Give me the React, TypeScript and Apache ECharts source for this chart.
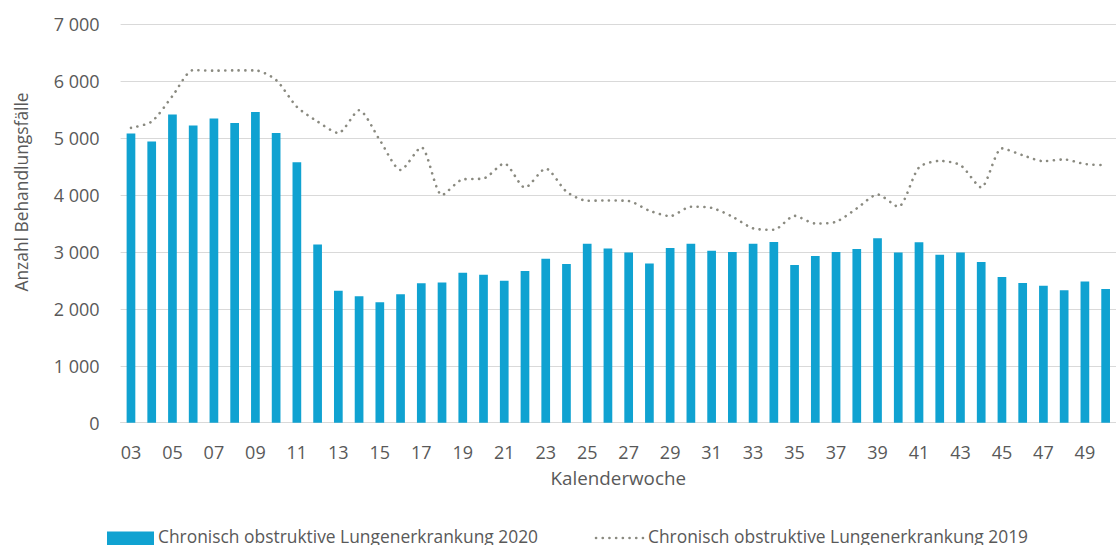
import React, { useEffect, useRef } from "react";
import * as echarts from "echarts";

const weeks = ["03","04","05","06","07","08","09","10","11","12","13","14","15","16","17","18","19","20","21","22","23","24","25","26","27","28","29","30","31","32","33","34","35","36","37","38","39","40","41","42","43","44","45","46","47","48","49","50"];

const copd2020 = [5080,4940,5415,5220,5345,5265,5460,5090,4575,3130,2320,2220,2115,2255,2450,2465,2635,2600,2495,2665,2880,2790,3145,3060,2990,2795,3070,3145,3020,3000,3145,3175,2770,2930,3000,3050,3240,2990,3170,2950,2990,2825,2560,2455,2405,2325,2480,2350];

const copd2019 = [5180,5290,5740,6195,6185,6190,6190,6020,5550,5290,5090,5490,4965,4440,4840,4000,4275,4290,4555,4130,4465,4060,3900,3905,3895,3725,3630,3795,3775,3620,3415,3390,3635,3500,3530,3765,4010,3795,4485,4600,4525,4135,4820,4700,4595,4625,4545,4525];

const yTicks = [0, 1000, 2000, 3000, 4000, 5000, 6000, 7000];

const seriesNames = ["Chronisch obstruktive Lungenerkrankung 2020", "Chronisch obstruktive Lungenerkrankung 2019"];
const yTitle = "Anzahl Behandlungsfälle";
const xTitle = "Kalenderwoche";

const FONT = "Open Sans";
const TEXT = "#595959";
const BAR = "#10a2d1";
const LINE = "#8a8a80";

export default function App() {
  const ref = useRef<HTMLDivElement>(null);
  useEffect(() => {
    if (!ref.current) return;
    const chart = echarts.init(ref.current, null, { renderer: "svg" });
    chart.setOption({
      animation: false,
      textStyle: { fontFamily: FONT },
      grid: { left: 120.6, top: 24.3, width: 998.3, height: 398.4, containLabel: false },
      xAxis: {
        type: "category",
        data: weeks,
        name: xTitle,
        nameLocation: "middle",
        nameGap: 46,
        nameTextStyle: { fontFamily: FONT, fontSize: 18.8, color: TEXT },
        axisLine: { lineStyle: { color: "#d9d9d9", width: 1 } },
        axisTick: { show: false },
        axisLabel: { interval: 1, fontFamily: FONT, fontSize: 18, color: TEXT, margin: 20 },
      },
      yAxis: {
        type: "value",
        min: yTicks[0],
        max: yTicks[yTicks.length - 1],
        interval: 1000,
        axisLine: { show: false },
        axisTick: { show: false },
        splitLine: { lineStyle: { color: "#d9d9d9", width: 1 } },
        axisLabel: {
          fontFamily: FONT,
          fontSize: 18,
          color: TEXT,
          margin: 21,
          formatter: (v: number) => String(v).replace(/\B(?=(\d{3})+(?!\d))/g, " "),
        },
      },
      graphic: [
        {
          type: "text",
          x: 21,
          y: 192,
          rotation: Math.PI / 2,
          style: {
            text: yTitle,
            fill: TEXT,
            font: `17.4px "${FONT}"`,
            align: "center",
            verticalAlign: "middle",
          },
        },
        { type: "rect", left: 107, top: 531.5, shape: { width: 47, height: 16 }, style: { fill: BAR } },
        {
          type: "text",
          left: 158,
          top: 527,
          style: { text: seriesNames[0], fill: TEXT, font: `17.4px "${FONT}"` },
        },
        {
          type: "line",
          shape: { x1: 596, y1: 538, x2: 644, y2: 538 },
          style: { stroke: LINE, lineWidth: 2.6, lineDash: [0.1, 6.6], lineCap: "round" },
        },
        {
          type: "text",
          left: 648,
          top: 527,
          style: { text: seriesNames[1], fill: TEXT, font: `17.4px "${FONT}"` },
        },
      ],
      series: [
        {
          name: seriesNames[0],
          type: "bar",
          data: copd2020,
          barWidth: 8.7,
          itemStyle: { color: BAR },
        },
        {
          name: seriesNames[1],
          type: "line",
          data: copd2019,
          smooth: 0.25,
          symbol: "none",
          lineStyle: { color: LINE, width: 2.6, type: [0.1, 6.6], cap: "round" },
          itemStyle: { color: LINE },
        },
      ],
    });
    return () => chart.dispose();
  }, []);
  return (
    <div
      ref={ref}
      style={{ position: "fixed", left: 0, top: 0, width: 1116, height: 545, background: "#fff" }}
    />
  );
}
